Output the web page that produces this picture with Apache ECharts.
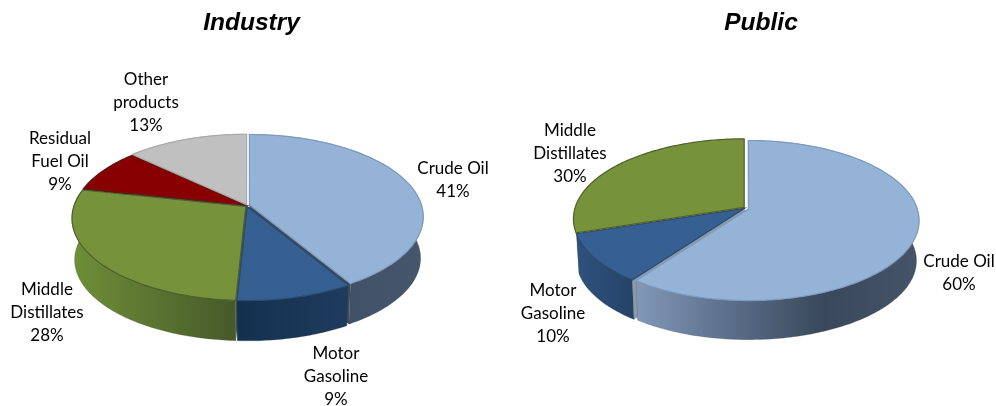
<!DOCTYPE html>
<html>
<head>
<meta charset="utf-8">
<style>html,body{margin:0;padding:0;background:#fff}#c{width:996px;height:406px}</style>
<script src="https://cdn.jsdelivr.net/npm/echarts@6/dist/echarts.min.js"></script>
</head>
<body>
<div id="c"></div>
<script>
// ---- data ----
var chartTitles = ['Industry', 'Public'];
var industryCategories = ['Crude Oil', 'Motor\nGasoline', 'Middle\nDistillates', 'Residual\nFuel Oil', 'Other\nproducts'];
var industryValues = [41.4, 9.4, 27.6, 8.6, 13];
var publicCategories = ['Crude Oil', 'Motor\nGasoline', 'Middle\nDistillates'];
var publicValues = [60, 10, 30];

// ---- look ----
var colorTop = {'Crude Oil':'#95b3d7','Motor\nGasoline':'#366092','Middle\nDistillates':'#76933c','Residual\nFuel Oil':'#880000','Other\nproducts':'#c0c0c0'};
var industryWalls = [['#3a4a60','#46566c'],['#14304f','#1f3c5e'],['#6f8f38','#46592a'],['#5a0000','#5a0000'],['#808080','#808080']];
var publicWalls = [['#8198b8','#5b6e8a','#39485a','#46546a'],['#2f527e','#244366'],null];
var edgeTop = {'Crude Oil':'#7d9abf','Motor\nGasoline':'#2c4a6e','Middle\nDistillates':'#4f5f2c','Residual\nFuel Oil':'#5c1a1a','Other\nproducts':'#aaaaaa'};

// ---- layout ----
var pieLayouts = [
  {cx:247, cy:205.5, R:172, A:80.5, c:-0.1446, s:0.985, dep:41.7, explode:[2.5,1,1.5,0.5,1], walls:industryWalls, cut:'#3c4a5c',
   labelAt:[[453,180.5],[336,377],[47,313],[60,162],[146,103]]},
  {cx:745, cy:208, R:169, A:78.4, c:-0.143, s:0.985, dep:40.5, explode:[3.5,0.5,1], walls:publicWalls, cut:'#8e9aa9',
   labelAt:[[959,273.5],[553,314],[570,154]]}
];

function point(p, t, off, bottom) {
  var u = Math.sin(t), v = -Math.cos(t), d = 1 + p.c * v;
  var x = p.R * u / d, y = p.A * v / d;
  if (bottom) { x *= p.s; y = y * p.s + p.dep; }
  return [p.cx + x + off[0], p.cy + y + off[1]];
}

function rendererFor(p, values, cats) {
  var total = values.reduce(function (a, b) { return a + b; }, 0);
  return function (params, api) {
    var i = params.dataIndex, before = 0;
    for (var k = 0; k < i; k++) before += values[k];
    var val = api.value(0);
    var t0 = before / total * 2 * Math.PI, t1 = (before + val) / total * 2 * Math.PI, mid = (t0 + t1) / 2;
    var e = p.explode[i];
    var off = [e * Math.sin(mid), -e * Math.cos(mid)];
    var n = Math.max(8, Math.ceil((t1 - t0) * 60));
    var top = [], bot = [];
    for (var j = 0; j <= n; j++) {
      var t = t0 + (t1 - t0) * j / n;
      top.push(point(p, t, off, false));
      bot.push(point(p, t, off, true));
    }
    var apex = [p.cx + off[0], p.cy + off[1]];
    var apexB = [apex[0], apex[1] + p.dep];
    var name = cats[i];
    var pct = Math.round(val / total * 100) + '%';
    var at = p.labelAt[i];
    var kids = [];
    if (p.walls[i]) {
      var stops = p.walls[i].map(function (col, idx, arr) { return {offset: idx / (arr.length - 1), color: col}; });
      kids.push(
        {type:'polygon', z2:1, shape:{points:[apex, top[0], bot[0], apexB]}, style:{fill:p.cut}},
        {type:'polygon', z2:1, shape:{points:[apex, top[n], bot[n], apexB]}, style:{fill:p.cut}},
        {type:'polygon', z2:2, shape:{points:top.concat(bot.slice().reverse())},
          style:{fill:new echarts.graphic.LinearGradient(0,0,1,0,stops), stroke:'rgba(60,70,50,0.35)', lineWidth:0.6}}
      );
    }
    kids.push(
      {type:'polygon', z2:3, shape:{points:[apex].concat(top)},
        style:{fill:colorTop[name], stroke:edgeTop[name], lineWidth:1.2}},
      {type:'text', z2:4, style:{x:at[0], y:at[1], text:name + '\n' + pct, align:'center', verticalAlign:'middle',
        fill:'#000', font:'17px Lato', lineHeight:23}}
    );
    return {type:'group', children:kids};
  };
}

function makeSeries(idx, cats, values) {
  return {
    type:'custom', coordinateSystem:'none', silent:true, animation:false,
    renderItem: rendererFor(pieLayouts[idx], values, cats),
    data: values.map(function (v, i) { return {name: cats[i], value: [v]}; })
  };
}

var titleStyle = {fontFamily:'Liberation Sans', fontWeight:'bold', fontStyle:'italic', fontSize:24.5, color:'#000'};
var chart = echarts.init(document.getElementById('c'), null, {renderer:'canvas'});
chart.setOption({
  animation:false,
  backgroundColor:'#ffffff',
  title:[
    {text:chartTitles[0], left:246.5, top:6, textAlign:'center', textStyle:titleStyle},
    {text:chartTitles[1], left:756, top:6, textAlign:'center', textStyle:titleStyle}
  ],
  series:[makeSeries(0, industryCategories, industryValues), makeSeries(1, publicCategories, publicValues)]
});
</script>
</body>
</html>
